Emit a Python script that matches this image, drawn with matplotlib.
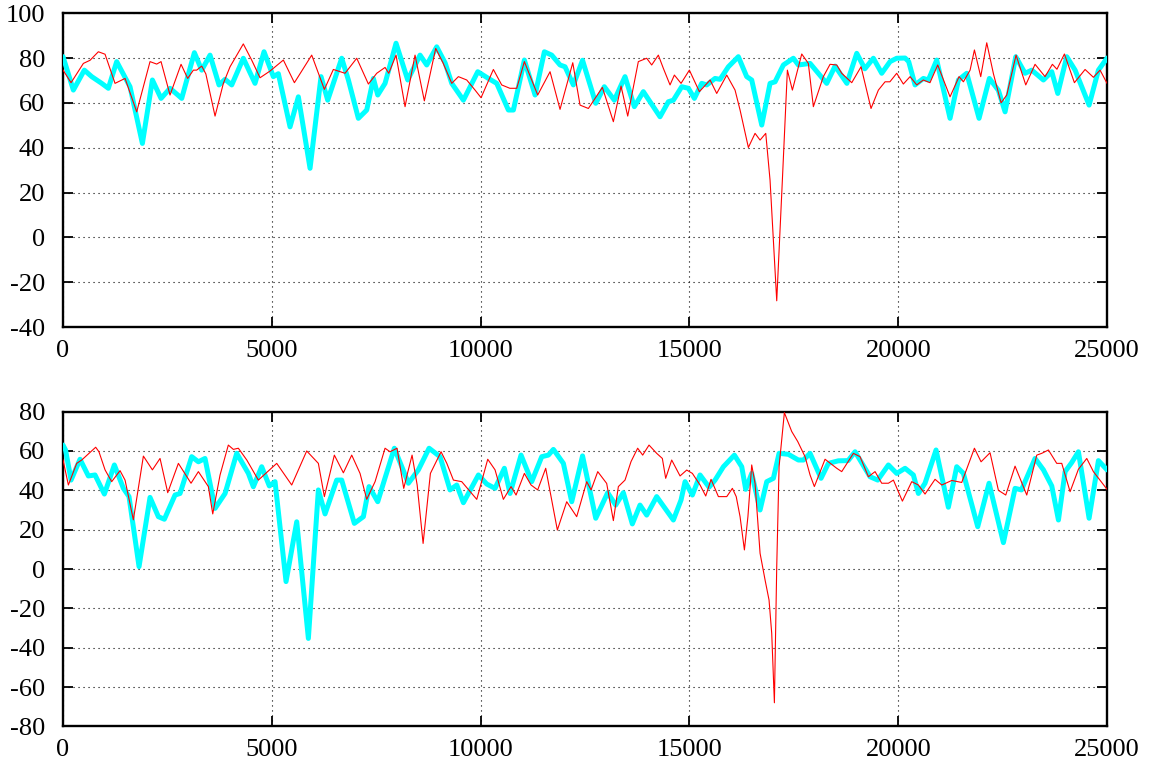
import matplotlib
matplotlib.use("Agg")
import matplotlib.pyplot as plt

# top panel, thick cyan series
top_cyan_x = [0, 247, 510, 687, 926, 1085, 1285, 1604, 1900, 2140, 2347, 2562, 2842, 3145, 3321, 3520, 3735, 3880,
              4040, 4317, 4597, 4813, 5036, 5156, 5436, 5635, 5915, 6178, 6338, 6673, 6833, 7072, 7272, 7432, 7536,
              7711, 7974, 8254, 8549, 8709, 8948, 9150, 9308, 9587, 9931, 10186, 10385, 10664, 10784, 11047, 11303,
              11526, 11702, 11901, 12021, 12220, 12440, 12756, 12962, 13201, 13457, 13680, 13896, 14295, 14495,
              14615, 14815, 14975, 15118, 15294, 15414, 15613, 15733, 15932, 16171, 16371, 16491, 16731, 16930,
              17050, 17249, 17488, 17608, 17888, 18287, 18487, 18770, 19006, 19200, 19404, 19604, 19803, 19963,
              20163, 20250, 20402, 20602, 20721, 20921, 21240, 21440, 21640, 21935, 22182, 22398, 22558, 22814,
              23037, 23197, 23476, 23676, 23820, 24035, 24235, 24570, 24793, 25000]
top_cyan_y = [80.6, 65.7, 74.6, 71.7, 68.7, 66.5, 78.4, 67.2, 41.9, 70.2, 62, 66.5, 62, 82.4, 74.6, 81.3, 68, 70.5,
              68, 79.9, 68.7, 82.8, 71.7, 73, 49.3, 62.7, 30.8, 71.7, 61.2, 79.9, 70.2, 53.1, 56.8, 70.9, 63.5,
              68.7, 86.6, 70.2, 81.3, 76.9, 85, 77.8, 68.7, 61.2, 73.9, 70.9, 68.7, 56.8, 56.8, 79.1, 63.5,
              82.8, 81.3, 76.9, 76.1, 68, 79, 59.8, 67.2, 61.2, 71.7, 58.3, 65, 53.8, 60.5,
              61.2, 67.2, 66.5, 62, 68.7, 68, 70.9, 70.5, 76.1, 80.6, 71.7, 70.2, 50.1, 68.7,
              69.4, 76.9, 79.9, 76.9, 77.6, 68.7, 76.4, 68.7, 82.1, 75.2, 79.9, 73.2, 78.4, 79.9,
              80, 78.4, 68, 70.9, 70.2, 79.1, 53.1, 70.2, 73.2, 53.1, 70.9, 65.6, 56, 80.6,
              73.2, 74.6, 70.2, 73.9, 64.2, 80.6, 74.6, 59, 74.6, 80]

# top panel, thin red series
top_red_x = [0, 192, 487, 647, 846, 1006, 1245, 1485, 1764, 2083, 2243, 2347, 2562, 2826, 2985, 3121, 3200, 3321,
             3420, 3640, 3839, 3999, 4317, 4517, 4717, 4957, 5276, 5540, 5955, 6258, 6473, 6753, 7033, 7312, 7512,
             7711, 7800, 7974, 8190, 8429, 8652, 8924, 9100, 9308, 9467, 9667, 9866, 10010, 10305, 10504, 10700,
             10864, 11047, 11366, 11662, 11901, 12206, 12380, 12580, 12915, 13178, 13362, 13522, 13776, 13976,
             14096, 14255, 14375, 14535, 14639, 14799, 14998, 15238, 15494, 15653, 15893, 16092, 16212, 16411,
             16571, 16691, 16827, 16930, 17090, 17225, 17345, 17465, 17689, 17847, 17967, 18206, 18367, 18527,
             18646, 18886, 19109, 19348, 19524, 19684, 19800, 19963, 20122, 20283, 20442, 20600, 20760, 20945,
             21240, 21456, 21560, 21720, 21824, 21975, 22119, 22280, 22462, 22598, 22821, 23053, 23276, 23515,
             23691, 23800, 23979, 24218, 24474, 24673, 24833, 25000]
top_red_y = [74.6, 69, 77.6, 79, 82.8, 81.7, 68.7, 70.9, 56, 78.4, 77.3, 78.4, 63.5, 77.2, 70.9, 74.6, 74.6, 76.4,
             72.9, 54.1, 68.7, 76.1, 86.3, 79.1, 71.2, 74.2, 79.1, 69, 81.3, 66, 74.9, 73.2, 79.9, 68.4, 73.2,
             75.8, 73.2, 81.3, 58.3, 81.3, 60.9, 84.3, 77.8, 68.7, 71.7, 70.2, 65.7, 62.3, 74.9, 68, 66.5,
             66.5, 78.4, 63.5, 73.9, 57.1, 77.9, 59, 57.5, 66.9, 51.6, 67.5, 54.1, 78.4, 79.9,
             76.9, 81.3, 75.4, 68, 72.4, 68.7, 74.6, 65, 70.2, 64.2, 72.4, 65.7, 56.8, 40.1,
             46.4, 43.4, 46.4, 25.5, -28.3, 25.5, 74.6, 65.7, 81.8, 77.6, 58.3, 71.7, 77.2, 76.9,
             73.2, 69, 76.1, 57.5, 65.7, 69.4, 69.4, 73.2, 68.4, 71.7, 68, 70.2, 69, 76.9,
             62.7, 71.7, 69.4, 74.6, 83.6, 71.7, 86.8, 72.9, 60, 63.5, 81.3, 68, 77.2, 71.7,
             77.2, 75, 81.8, 69, 74.9, 71.4, 74.6, 68.7]

# bottom panel, thick cyan series
bot_cyan_x = [0, 60, 192, 407, 607, 766, 990, 1229, 1445, 1580, 1820, 2083, 2283, 2426, 2682, 2802, 3081, 3241,
              3400, 3640, 3880, 4159, 4438, 4557, 4757, 4940, 5077, 5340, 5596, 5875, 6114, 6274, 6553, 6673, 6976,
              7192, 7328, 7536, 7695, 7934, 8270, 8509, 8765, 9028, 9267, 9428, 9587, 9947, 10146, 10345, 10568,
              10704, 10967, 11223, 11463, 11622, 11742, 11981, 12181, 12440, 12756, 13042, 13234, 13417, 13632,
              13816, 13976, 14215, 14615, 14799, 14895, 15070, 15254, 15469, 15613, 15813, 16076, 16252, 16347,
              16491, 16691, 16851, 17010, 17146, 17369, 17608, 17730, 17888, 18151, 18327, 18566, 18800, 18966,
              19325, 19509, 19764, 19963, 20163, 20362, 20482, 20641, 20905, 21200, 21400, 21560, 21903, 22174,
              22518, 22797, 22950, 23276, 23476, 23676, 23836, 23995, 24150, 24314, 24570, 24793, 25000]
bot_cyan_y = [63, 60.5, 45.2, 55.8, 47.3, 47.8, 38.1, 52.9, 41, 36.8, 1.2, 36.4, 26.6, 25.3, 37.6, 38.4, 57.1, 54.5,
              56.2, 30.8, 38.4, 58.8, 48.6, 41.8, 52, 42.2, 44.4, -6.4, 24, -35.3, 40.2, 28, 45.2, 45.2, 23.2,
              26.6, 41.9, 34.2, 45.2, 61.4, 43.6, 50.4, 61.4, 57.1, 40.2, 42.7, 33.7, 47.8, 43.2, 41, 51.2,
              38.4, 57.9, 44.4, 57.1, 57.9, 60.8, 53.7, 34.2, 57.5, 25.8, 38.8, 32.5, 38.8, 22.9,
              32.5, 27.4, 36.8, 24.9, 35.1, 44.4, 37.6, 47.8, 41.6, 45.2, 52, 57.9, 52, 40.5,
              48.6, 30, 44.4, 46.1, 58.8, 58.3, 55.4, 55.4, 58.8, 46.1, 53.7, 55, 55.1, 59.6,
              46.9, 45.2, 52.9, 48.6, 51.2, 47.8, 38.4, 43.6, 60.5, 31.4, 52, 48.6, 21.5, 43.6,
              13.4, 41, 40.2, 56.2, 50.4, 42.2, 24.9, 49.5, 54, 59.6, 25.8, 55.1, 50.4]

# bottom panel, thin red series
bot_red_x = [0, 128, 327, 447, 782, 860, 1006, 1165, 1365, 1485, 1684, 1924, 2140, 2323, 2507, 2762, 3065, 3241,
             3480, 3585, 3760, 3958, 4078, 4198, 4400, 4677, 5117, 5476, 5835, 6114, 6258, 6497, 6713, 6913, 7112,
             7272, 7472, 7711, 7830, 7998, 8158, 8358, 8480, 8622, 8797, 9052, 9190, 9348, 9547, 9907, 10170,
             10345, 10544, 10728, 10848, 11047, 11207, 11366, 11558, 11837, 12061, 12300, 12540, 12645, 12804,
             13018, 13178, 13298, 13457, 13601, 13760, 13880, 14032, 14215, 14351, 14431, 14575, 14775, 14935,
             15070, 15254, 15390, 15517, 15693, 15893, 16028, 16120, 16212, 16316, 16400, 16491, 16571, 16691,
             16811, 16906, 16970, 17034, 17090, 17146, 17273, 17449, 17593, 17768, 17888, 17991, 18247, 18527,
             18646, 18926, 19085, 19285, 19445, 19604, 19764, 19884, 20099, 20323, 20482, 20641, 20881, 21042,
             21281, 21520, 21824, 21983, 22198, 22398, 22574, 22797, 23077, 23317, 23436, 23596, 23795, 23915,
             24115, 24314, 24514, 24673, 25000]
bot_red_y = [55.4, 42.7, 53.7, 55.4, 61.9, 59.6, 50.4, 44.4, 50, 45.2, 25, 57.4, 50.4, 56.2, 38.8, 53.7, 43.6, 49.5,
             41.9, 28, 47.8, 63, 60.8, 61.4, 55.4, 45.2, 53.7, 42.7, 60, 53.7, 36.8, 57.9, 48.9, 57.9, 48.6,
             35.4, 44.4, 61.4, 59.6, 61.4, 41, 57.9, 42.7, 13, 48.6, 59.6, 53.7, 45.2, 44.4, 35.4, 55.8,
             50.4, 35.4, 41.9, 37.6, 48.6, 42.7, 40.2, 51.2, 19.8, 34.2, 26.6, 44.4, 40.2, 49.5,
             43.5, 24.6, 41.9, 45.2, 54.6, 61.4, 57.9, 63, 58.8, 56.2, 46.1, 55.4, 47.3, 50.3,
             48.6, 42.7, 37.1, 45.6, 36.8, 36.8, 41, 36.8, 26.6, 9.7, 26.6, 52.9, 43.5, 8,
             -5.6, -15.8, -32.7, -68, 1.2, 52, 79.5, 69.9, 64.8, 57.1, 47.8, 41.9, 55.8, 51.2,
             49.5, 58.8, 57.1, 46.9, 49.5, 43.6, 43.6, 45.2, 34.5, 44.4, 42.7, 38.1, 45.6, 42.7,
             45, 44, 61.4, 54.5, 59.1, 40, 37.6, 52.3, 37.6, 57.9, 58.8, 60.5, 53.7, 53.7,
             39.3, 50.7, 56.2, 49.5, 40.5]

x_ticks = [0, 5000, 10000, 15000, 20000, 25000]
top_yticks = [-40, -20, 0, 20, 40, 60, 80, 100]
bot_yticks = [-80, -60, -40, -20, 0, 20, 40, 60, 80]

plt.rcParams['font.family'] = ['Liberation Serif', 'DejaVu Serif']
plt.rcParams['axes.unicode_minus'] = False

fig = plt.figure(figsize=(11.63, 7.72), dpi=100)
ax_top = fig.add_axes([0.0542, 0.5764, 0.8977, 0.4065])
ax_bot = fig.add_axes([0.0542, 0.0591, 0.8977, 0.4077])

panels = [
    (ax_top, top_cyan_x, top_cyan_y, top_red_x, top_red_y, top_yticks),
    (ax_bot, bot_cyan_x, bot_cyan_y, bot_red_x, bot_red_y, bot_yticks),
]

for ax, cx, cy, rx, ry, yt in panels:
    ax.plot(cx, cy, color='#00ffff', lw=3.6, solid_joinstyle='round', solid_capstyle='round', zorder=3)
    ax.plot(rx, ry, color='#ff0000', lw=0.8, solid_joinstyle='round', zorder=4)
    ax.set_xlim(0, 25000)
    ax.set_ylim(yt[0], yt[-1])
    ax.set_xticks(x_ticks)
    ax.set_yticks(yt)
    ax.grid(True, color='black', linestyle=(0, (1, 3.5)), linewidth=0.8)
    ax.tick_params(direction='in', length=7, width=1.3, top=True, right=True,
                   labelsize=19)
    ax.tick_params(axis='y', pad=13)
    ax.tick_params(axis='x', pad=9)
    for sp in ax.spines.values():
        sp.set_linewidth(1.7)

fig.savefig('out.png', dpi=100)
